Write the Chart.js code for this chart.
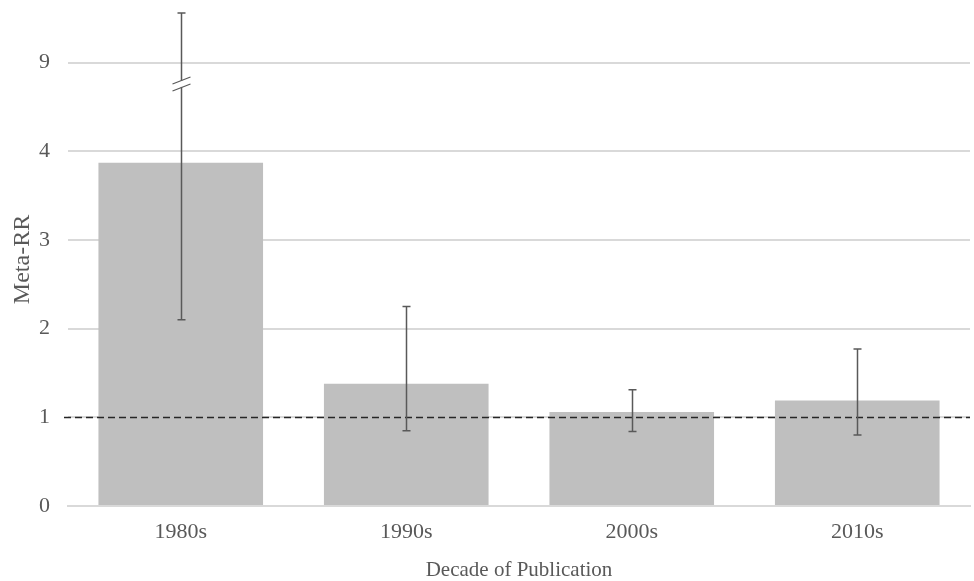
<!DOCTYPE html>
<html>
<head>
<meta charset="utf-8">
<script src="https://cdn.jsdelivr.net/npm/chart.js@4"></script>
<style>
  html, body { margin: 0; padding: 0; background: #fff; }
  #wrap { width: 974px; height: 581px; }
</style>
</head>
<body>
<div id="wrap"><canvas id="chart"></canvas></div>
<script>
// Values.
const decades = ['1980s', '1990s', '2000s', '2010s'];
const metaRR = [3.87, 1.38, 1.06, 1.19];
const ciLow = [2.10, 0.85, 0.84, 0.80];
const ciHigh = [9.56, 2.25, 1.31, 1.77];
const yTickValues = [0, 1, 2, 3, 4, 9];
const breakValue = 7.8;   // where the // mark sits on the 1980s whisker
const refLine = 1;

// The axis is broken between 4 and 9: 4..9 is squeezed into one unit.
function toAxis(v) {
  if (v <= 4) return v;
  if (v >= 9) return v - 4;
  return 4 + (v - 4) / 5;
}

const FONT = '"Liberation Serif", "DejaVu Serif", serif';
const TEXT = '#595959';

const overlay = {
  id: 'overlay',
  afterDatasetsDraw(chart) {
    const ctx = chart.ctx;
    const x = chart.scales.x, y = chart.scales.y;
    const area = chart.chartArea;

    // dashed reference line at RR = 1
    ctx.save();
    ctx.strokeStyle = '#262626';
    ctx.lineWidth = 1.5;
    ctx.setLineDash([7, 4]);
    const yr = Math.round(y.getPixelForValue(toAxis(refLine))) + 0.5;
    ctx.beginPath();
    ctx.moveTo(area.left - 4, yr);
    ctx.lineTo(area.right, yr);
    ctx.stroke();
    ctx.restore();

    // error bars
    ctx.save();
    ctx.strokeStyle = '#595959';
    ctx.lineWidth = 1.5;
    for (let i = 0; i < decades.length; i++) {
      const cx = Math.round(x.getPixelForValue(i)) + 0.5;
      const top = y.getPixelForValue(toAxis(ciHigh[i]));
      const bot = y.getPixelForValue(toAxis(ciLow[i]));
      ctx.beginPath();
      ctx.moveTo(cx, top); ctx.lineTo(cx, bot);
      ctx.moveTo(cx - 4, top); ctx.lineTo(cx + 4, top);
      ctx.moveTo(cx - 4, bot); ctx.lineTo(cx + 4, bot);
      ctx.stroke();

      // axis-break mark on whiskers that cross the break
      if (ciHigh[i] > 4 && ciLow[i] < breakValue) {
        const by = y.getPixelForValue(toAxis(breakValue));
        ctx.save();
        ctx.fillStyle = '#fff';
        ctx.fillRect(cx - 2, by - 3, 4, 6);
        ctx.lineWidth = 1.2;
        ctx.beginPath();
        ctx.moveTo(cx - 9, by);     ctx.lineTo(cx + 9, by - 7);
        ctx.moveTo(cx - 9, by + 7); ctx.lineTo(cx + 9, by);
        ctx.stroke();
        ctx.restore();
      }
    }
    ctx.restore();
  }
};

new Chart(document.getElementById('chart'), {
  type: 'bar',
  data: {
    labels: decades,
    datasets: [{
      data: metaRR.map(toAxis),
      backgroundColor: '#bfbfbf',
      borderWidth: 0,
      categoryPercentage: 1,
      barPercentage: 0.73
    }]
  },
  options: {
    responsive: true,
    maintainAspectRatio: false,
    animation: false,
    layout: { padding: { top: 13, right: 4, left: 8, bottom: 0 } },
    plugins: {
      legend: { display: false },
      tooltip: { enabled: false }
    },
    scales: {
      x: {
        afterFit(scale) {
          scale.height = 75;
        },
        grid: { display: false, drawTicks: false },
        border: { display: true, color: '#d9d9d9', width: 2 },
        ticks: { color: TEXT, font: { family: FONT, size: 22 }, padding: 13 },
        title: {
          display: true, text: 'Decade of Publication', color: TEXT,
          font: { family: FONT, size: 21, lineHeight: 1 }, padding: { top: 0, bottom: 0 }
        }
      },
      y: {
        min: 0,
        max: toAxis(9.56),
        afterBuildTicks(scale) {
          scale.ticks = yTickValues.map(v => ({ value: toAxis(v) }));
        },
        afterFit(scale) {
          scale.paddingTop = 0;
          scale.paddingBottom = 0;
          scale.width = 60;
        },
        grid: { color: '#d9d9d9', lineWidth: 2, drawTicks: false },
        border: { display: false },
        ticks: {
          color: TEXT, font: { family: FONT, size: 22 }, padding: 18,
          callback(value) {
            const i = yTickValues.map(toAxis).indexOf(value);
            return i >= 0 ? String(yTickValues[i]) : '';
          }
        },
        title: {
          display: true, text: 'Meta-RR', color: TEXT,
          font: { family: FONT, size: 24 }, padding: { top: 0, bottom: 6 }
        }
      }
    }
  },
  plugins: [overlay]
});
</script>
</body>
</html>
